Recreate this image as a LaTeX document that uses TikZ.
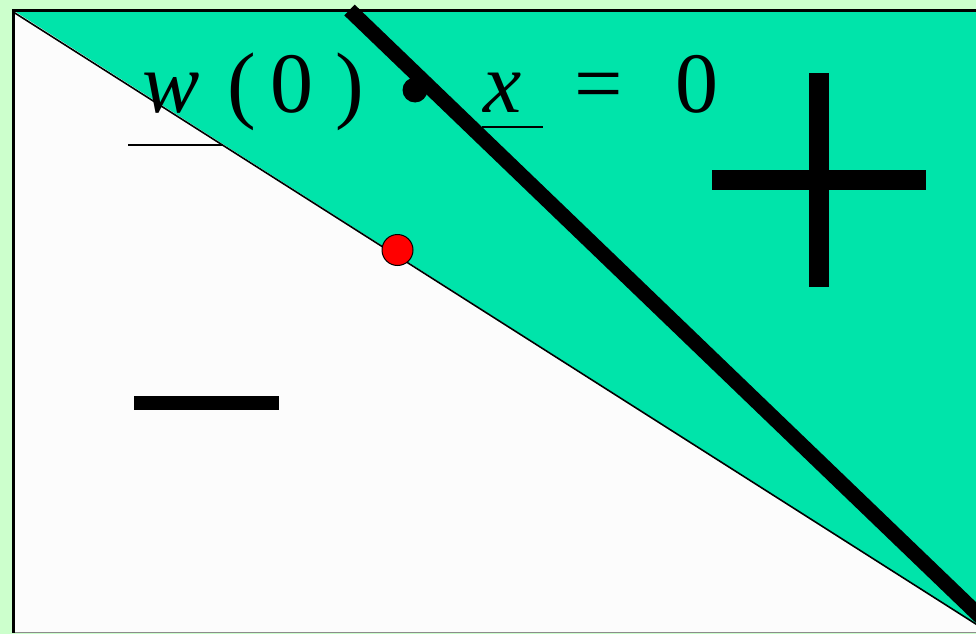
\documentclass[tikz,border=0pt]{standalone}
\usepackage{fontspec}
\setmainfont{Liberation Serif}
\definecolor{bggreen}{RGB}{204,255,204}
\definecolor{teal2}{RGB}{0,228,170}
\tikzset{
  glyph/.style={anchor=base, inner sep=0pt, font=\fontsize{86}{90}\selectfont},
  bar/.style={fill=black, draw=none},
}
\begin{document}
\begin{tikzpicture}[x=1pt,y=-1pt]
\useasboundingbox (0,0) rectangle (976,634);
\clip (0,0) rectangle (976,634);
\fill[bggreen] (0,0) rectangle (976,634);
% white panel
\fill[white!99!black] (13.5,10.5) rectangle (990,632.5);
\draw[black!45, line width=1.2] (13.5,632.5) -- (990,632.5);
% underline of w (partly hidden by teal region)
\draw[line width=2.5] (128,145) -- (222,145);
% teal half-plane
\fill[teal2] (13.5,10.5) -- (990,10.5) -- (990,633) -- cycle;
% panel border
\draw[line width=2.5] (13.5,632.5) -- (13.5,10.5) -- (990,10.5);
% thin separating line
\coordinate (t1) at (12.5,11.5);
\coordinate (t2) at (990,633);
\draw[line width=1.6] (t1) -- (t2);
% thick line
\coordinate (k1) at (349.5,10);
\coordinate (k2) at (990,626);
\draw[line width=15] (k1) -- (k2);
% equation
\node[glyph] (w) at (171,112) {\itshape w};
\node[glyph] (lp) at (242,112) {(};
\node[glyph] (z1) at (292,112) {0};
\node[glyph] (rp) at (350,112) {)};
\fill (415,90) circle (12.5) coordinate (dot);
\node[glyph] (x) at (503,112) {\itshape x};
\draw[line width=2.5] (482,127) -- (543,127);
\node[glyph] (eq) at (599,112) {=};
\node[glyph] (z2) at (697,112) {0};
% plus
\fill[bar] (809,73) rectangle (829,287);
\fill[bar] (712,170) rectangle (926,190);
% minus
\fill[bar] (134,396) rectangle (279,410);
% red point
\filldraw[fill=red, draw=black, line width=1] (397.5,250) circle (15.5);
\end{tikzpicture}
\end{document}
